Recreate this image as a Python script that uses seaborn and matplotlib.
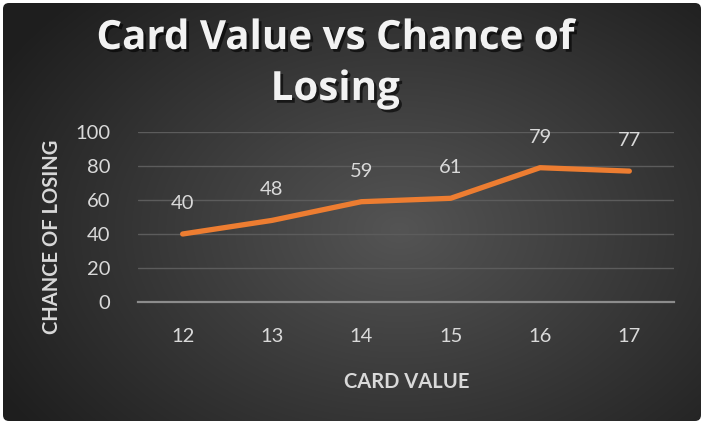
import numpy as np
import pandas as pd
import matplotlib
matplotlib.use("Agg")
import matplotlib.pyplot as plt
import matplotlib.patheffects as pe
from matplotlib.patches import FancyBboxPatch
import seaborn as sns

card_values = [12, 13, 14, 15, 16, 17]
chance_of_losing = [40, 48, 59, 61, 79, 77]
y_ticks = [0, 20, 40, 60, 80, 100]

df = pd.DataFrame({"card": card_values, "chance": chance_of_losing})

sns.set_style("dark")
plt.rcParams['font.family'] = ['Lato', 'DejaVu Sans']

W, H = 705, 425
fig = plt.figure(figsize=(W / 100, H / 100), dpi=100)
fig.patch.set_facecolor("white")

# background panel with radial gradient
bg = fig.add_axes([0, 0, 1, 1])
bg.set_xlim(0, W)
bg.set_ylim(H, 0)
bg.axis("off")
yy, xx = np.mgrid[0:H, 0:W]
r = np.sqrt(((xx - 400) / 420.0) ** 2 + ((yy - 230) / 300.0) ** 2)
shade = np.clip(0.33 - 0.19 * r, 0.12, 0.36)
img = np.dstack([shade, shade, shade])
im = bg.imshow(img, extent=[3, 701, 421, 3], zorder=0)
clip = FancyBboxPatch((3, 3), 698, 418, boxstyle="round,pad=0,rounding_size=6",
                      transform=bg.transData, facecolor="none", edgecolor="none")
bg.add_patch(clip)
im.set_clip_path(clip)

# plot area: x 138..674, y 132..302
ax = fig.add_axes([138 / W, 1 - 302 / H, (674 - 138) / W, (302 - 132) / H])
ax.patch.set_alpha(0)
sns.lineplot(data=df, x="card", y="chance", ax=ax, color="#ED7D31",
             linewidth=3.8, solid_capstyle="round", solid_joinstyle="round",
             zorder=3)

ax.set_xlim(11.5, 17.5)
ax.set_ylim(0, 100)
ax.set_xticks(card_values)
ax.set_yticks(y_ticks)
ax.grid(axis="y", color="#5c5c5c", linewidth=1.0)
ax.grid(axis="x", visible=False)
for s in ["top", "right", "left"]:
    ax.spines[s].set_visible(False)
ax.spines["bottom"].set_color("#8c8c8c")
ax.spines["bottom"].set_linewidth(1.6)
ax.tick_params(axis="both", length=0, colors="#d9d9d9", labelsize=14.5)
ax.tick_params(axis="x", pad=19)
ax.tick_params(axis="y", pad=20)

for xv, yv in zip(card_values, chance_of_losing):
    ax.annotate(str(yv), (xv, yv), xytext=(0, 22), textcoords="offset points",
                ha="center", va="center", color="#d9d9d9", fontsize=14.5)

ax.set_xlabel("CARD VALUE", color="#d9d9d9", fontsize=14.5, fontweight="bold")
ax.set_ylabel("CHANCE OF LOSING", color="#d9d9d9", fontsize=14.5, fontweight="bold")
ax.xaxis.set_label_coords((407 - 138) / (674 - 138), -(372 - 302) / (302 - 132))
ax.yaxis.set_label_coords(-(138 - 62) / (674 - 138), (302 - 237) / (302 - 132))

shadow = [pe.withSimplePatchShadow(offset=(2, -2), shadow_rgbFace="black", alpha=0.6)]
fig.text(335 / W, 1 - 64 / H, "Card Value vs Chance of\nLosing", ha="center",
         va="center", color="#f2f2f2", fontsize=29, fontweight="bold",
         family=["Open Sans", "DejaVu Sans"], linespacing=1.4,
         path_effects=shadow)

fig.savefig("out.png", dpi=100, facecolor=fig.get_facecolor())
